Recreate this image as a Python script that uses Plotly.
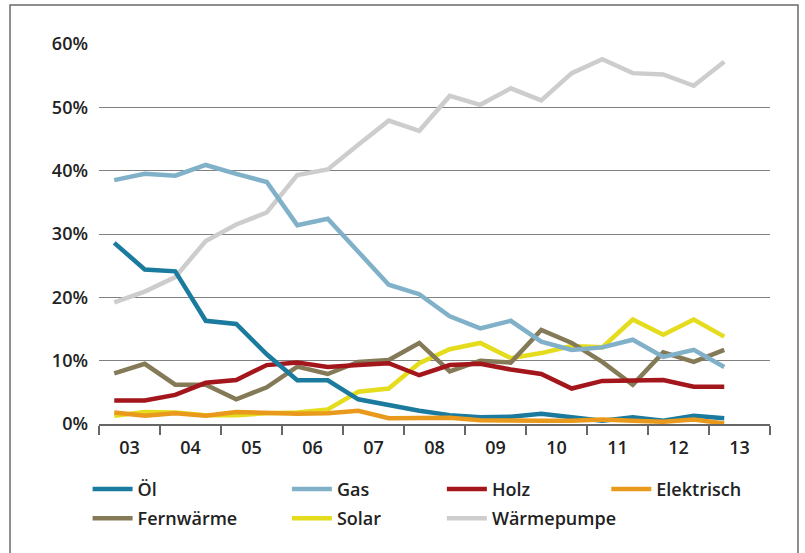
import plotly.graph_objects as go

# half-year observation points (approx. position in years)
periods = [2003.25, 2003.75, 2004.25, 2004.75, 2005.25, 2005.75, 2006.25, 2006.75,
           2007.25, 2007.75, 2008.25, 2008.75, 2009.25, 2009.75, 2010.25, 2010.75,
           2011.25, 2011.75, 2012.25, 2012.75, 2013.25]

oel = [28.6, 24.4, 24.1, 16.3, 15.8, 11.0, 6.9, 6.9, 3.9, 3.0, 2.1, 1.4, 1.05, 1.15,
       1.6, 1.05, 0.5, 1.05, 0.5, 1.3, 0.9]
gas = [38.5, 39.5, 39.2, 40.9, 39.5, 38.2, 31.4, 32.4, 27.2, 22.0, 20.5, 17.0, 15.1,
       16.3, 13.0, 11.7, 12.1, 13.3, 10.6, 11.7, 9.0]
holz = [3.7, 3.7, 4.6, 6.5, 6.95, 9.3, 9.7, 9.0, 9.3, 9.6, 7.7, 9.3, 9.5, 8.6, 7.9,
        5.6, 6.8, 6.8, 6.95, 5.9, 5.9]
elektrisch = [1.8, 1.3, 1.7, 1.3, 1.9, 1.7, 1.6, 1.7, 2.1, 0.9, 0.9, 1.0, 0.6, 0.5,
              0.5, 0.5, 0.7, 0.5, 0.35, 0.7, 0.1]
fernwaerme = [8.0, 9.5, 6.2, 6.2, 3.9, 5.8, 9.05, 7.9, 9.8, 10.1, 12.8, 8.3, 10.0, 9.7,
              14.85, 12.8, 9.8, 6.2, 11.3, 9.8, 11.7]
solar = [1.3, 1.9, 1.8, 1.4, 1.4, 1.7, 1.8, 2.3, 5.1, 5.6, 9.6, 11.8, 12.8, 10.4, 11.2,
         12.3, 12.1, 16.5, 14.1, 16.5, 13.8]
waermepumpe = [19.2, 20.9, 23.2, 28.9, 31.5, 33.4, 39.3, 40.2, 44.1, 47.9, 46.3, 51.8,
               50.4, 53.0, 51.1, 55.4, 57.6, 55.4, 55.2, 53.4, 57.2]

year_labels = ["03", "04", "05", "06", "07", "08", "09", "10", "11", "12", "13"]
year_starts = [2003, 2004, 2005, 2006, 2007, 2008, 2009, 2010, 2011, 2012, 2013]
y_ticks = [0, 10, 20, 30, 40, 50, 60]
y_labels = ["0%", "10%", "20%", "30%", "40%", "50%", "60%"]

# (name, values, colour, legend, rank) – drawn bottom to top
series = [
    ("Wärmepumpe", waermepumpe, "#cdcdcd", "legend3", 2),
    ("Solar", solar, "#e4dc1c", "legend2", 2),
    ("Fernwärme", fernwaerme, "#857a58", "legend", 2),
    ("Holz", holz, "#a3161c", "legend3", 1),
    ("Gas", gas, "#80b1c9", "legend2", 1),
    ("Öl", oel, "#1b7b9e", "legend", 1),
    ("Elektrisch", elektrisch, "#e99a1c", "legend4", 1),
]

FONT = "Open Sans, Lato, DejaVu Sans, sans-serif"

fig = go.Figure()
for name, vals, col, leg, rank in series:
    fig.add_trace(go.Scatter(
        x=periods, y=vals, name=name, mode="lines",
        line=dict(color=col, width=4.5),
        legend=leg, legendrank=rank, legendgroup=name, cliponaxis=False,
    ))

legend_common = dict(
    orientation="v", yanchor="top", y=-0.123, xanchor="left",
    font=dict(family=FONT, size=18, color="#222222", weight=600),
    bgcolor="rgba(0,0,0,0)", itemwidth=40, traceorder="grouped",
    tracegroupgap=3,
)

fig.update_layout(
    width=805, height=553,
    margin=dict(l=99, r=35, t=44, b=129),
    paper_bgcolor="white", plot_bgcolor="white",
    font=dict(family=FONT, size=18, color="#222222"),
    legend=dict(x=-0.017, **legend_common),
    legend2=dict(x=0.280, **legend_common),
    legend3=dict(x=0.511, **legend_common),
    legend4=dict(x=0.756, **legend_common),
    xaxis=dict(
        range=[2003, 2014],
        tickvals=[y + 0.5 for y in year_starts], ticktext=year_labels,
        ticks="", showgrid=False, zeroline=False,
        showline=True, linecolor="#666666", linewidth=1.5,
        ticklabelstandoff=7,
        tickfont=dict(family=FONT, size=18, color="#222222", weight=600),
        minor=dict(tick0=2003, dtick=1, ticks="outside", ticklen=9,
                   tickcolor="#666666", tickwidth=1.5, showgrid=False),
    ),
    yaxis=dict(
        range=[0, 60], tickvals=y_ticks, ticktext=y_labels,
        showgrid=True, gridcolor="#808080", gridwidth=1.2,
        zeroline=False, showline=False, ticks="",
        ticklabelstandoff=10,
        tickfont=dict(family=FONT, size=18, color="#222222", weight=600),
    ),
    shapes=[dict(type="rect", xref="paper", yref="paper",
                 x0=-0.1326, x1=1.0417, y0=-0.5, y1=1.1026,
                 line=dict(color="#6a6a6a", width=1.5), fillcolor="rgba(0,0,0,0)",
                 layer="below")],
)

fig.write_html("out.html", config={"displayModeBar": False},
               post_script="document.body.style.margin='0';")
